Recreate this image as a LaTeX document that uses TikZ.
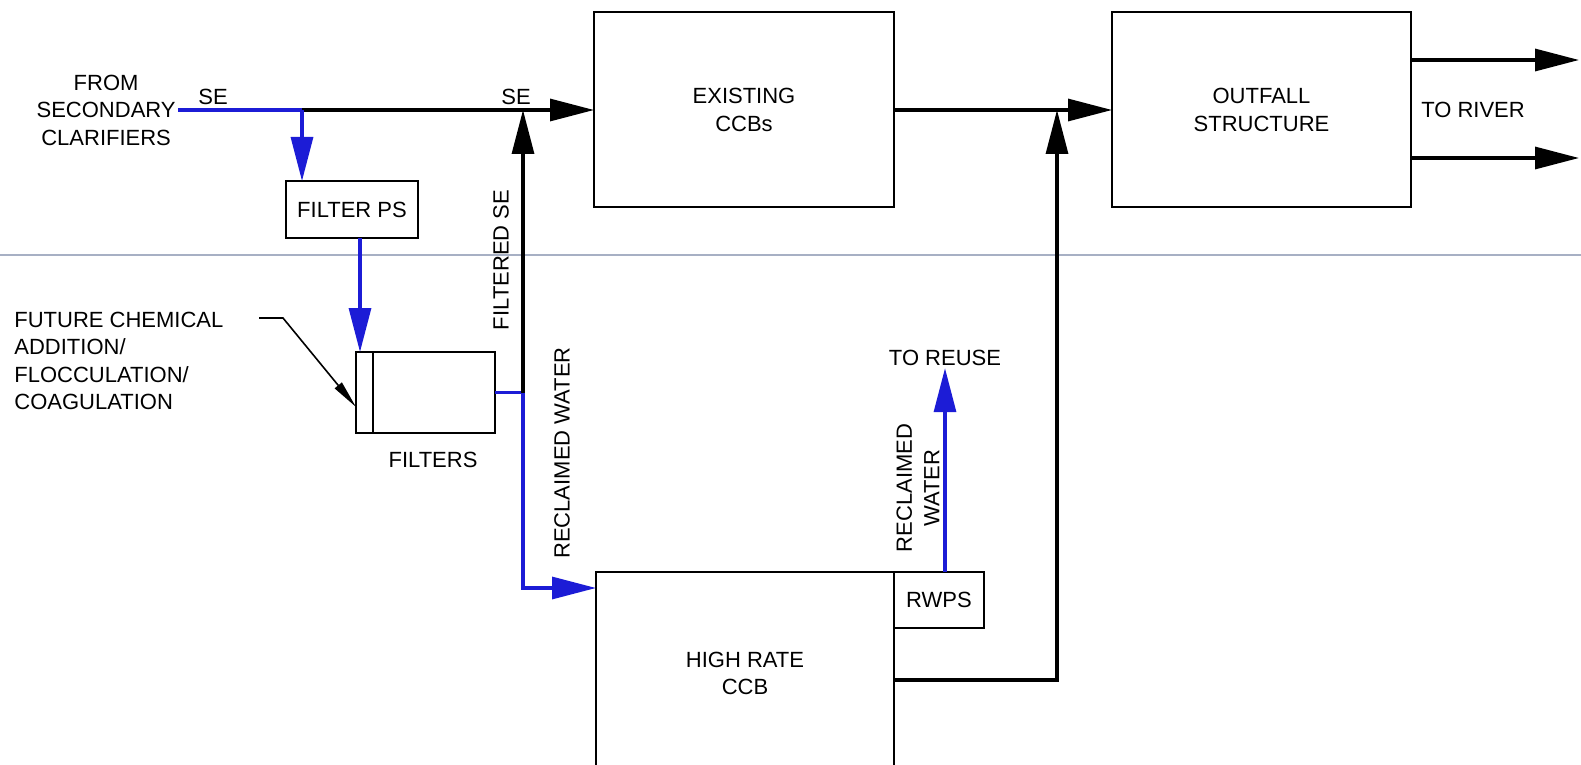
\documentclass[tikz,border=0pt]{standalone}
\usepackage{fontspec}
\setmainfont{Liberation Sans}
\usetikzlibrary{arrows.meta,positioning,calc}
\definecolor{flowblue}{HTML}{1C1CD6}
\definecolor{rulegray}{HTML}{A7B0C4}

\begin{document}
\begin{tikzpicture}[
    x=0.5pt, y=-0.5pt,
    unit/.style={rectangle, draw, line width=1pt, inner sep=0pt,
                 outer sep=0pt, align=center},
    pipe/.style={line width=1.6pt},
    flow/.style={pipe, -{Triangle[length=22pt, width=11pt]}},
    leader/.style={line width=0.8pt, -{Triangle[length=14pt, width=4.5pt]}},
    lbl/.style={inner sep=1pt, align=center},
    every node/.style={font=\fontsize{11}{13.75}\selectfont}
  ]

  % ---- Frame ----
  \useasboundingbox (0,0) rectangle (1581,765);
  \draw[rulegray, line width=0.6pt] (0,255) -- (1581,255);

  % ============ Process units ============

  \node[unit, minimum width=150pt, minimum height=97.5pt]
    (ccb) at (744,110) {EXISTING\\CCBs};
  \node[unit, minimum width=149.5pt, minimum height=97.5pt]
    (outf) at (1261.5,110) {OUTFALL\\STRUCTURE};
  \node[unit, minimum width=149pt, minimum height=101.5pt]
    (hrccb) at (745,673.5) {HIGH RATE\\CCB};
  \node[unit, minimum width=45pt, minimum height=28pt, anchor=north west]
    (rwps) at (hrccb.north east) {RWPS};
  \node[unit, minimum width=66pt, minimum height=28.5pt]
    (fps) at (352,209.5) {FILTER PS};
  \node[unit, minimum width=69.5pt, minimum height=40.5pt]
    (filt) at (425.5,392.5) {};
  \draw[line width=1pt] ([xshift=8.5pt]filt.north west)
    -- ([xshift=8.5pt]filt.south west);

  % ============ Labels ============

  \node[lbl, anchor=east] (fromsec) at (178,110) {FROM\\SECONDARY\\CLARIFIERS};
  \node[lbl, align=left, anchor=west] (chem) at (12,361)
    {FUTURE CHEMICAL\\ADDITION/\\FLOCCULATION/\\COAGULATION};
  \node[lbl] (se1) at (213,97) {SE};
  \node[lbl] (se2) at (516,97) {SE};
  \node[lbl] (filtlbl) at (433,460) {FILTERS};
  \node[lbl, rotate=90] (filtse) at (501,260) {FILTERED SE};
  \node[lbl, rotate=90] (recl1) at (562,453) {RECLAIMED WATER};
  \node[lbl, rotate=90] (recl2) at (918,488) {RECLAIMED\\WATER};
  \node[lbl] (reuse) at (945,358) {TO REUSE};
  \node[lbl] (river) at (1473,110) {TO RIVER};

  % ---- Junctions ----
  \coordinate (tee1) at (302,110);
  \coordinate (jn1) at (523,110);
  \coordinate (jn2) at (1057,110);
  \coordinate (fin) at (360,0);
  \coordinate (ldr) at (259,318);

  % ============ Secondary effluent ============

  \draw[pipe, flowblue] (fromsec.east) -- (tee1);
  \draw[flow] (tee1) -- (ccb.west);
  \draw[flow, flowblue] (tee1) -- (tee1 |- fps.north);
  \draw[flow, flowblue] (fps.south -| fin) -- (filt.north -| fin);

  % Chemical addition leader
  \draw[leader] (ldr) -- ($(ldr)+(24,0)$) -- ([yshift=-7.25pt]filt.west);

  % Filtered SE back to main line, reclaimed water to high rate CCB
  \draw[pipe, flowblue] (filt.east) -- (filt.east -| jn1);
  \draw[flow] (filt.east -| jn1) -- (jn1);
  \draw[flow, flowblue] (filt.east -| jn1) |- ([yshift=-8pt]hrccb.north west);

  % ============ To outfall and river ============

  \draw[flow] (ccb.east) -- (outf.west);
  \draw[flow] ([yshift=-54pt]hrccb.north east) -| (jn2);
  \draw[flow] ([yshift=25pt]outf.east) -- ++(168,0);
  \draw[flow] ([yshift=-24pt]outf.east) -- ++(168,0);

  % Reuse
  \draw[flow, flowblue] (rwps.north -| reuse) -- (reuse.south);

\end{tikzpicture}
\end{document}
